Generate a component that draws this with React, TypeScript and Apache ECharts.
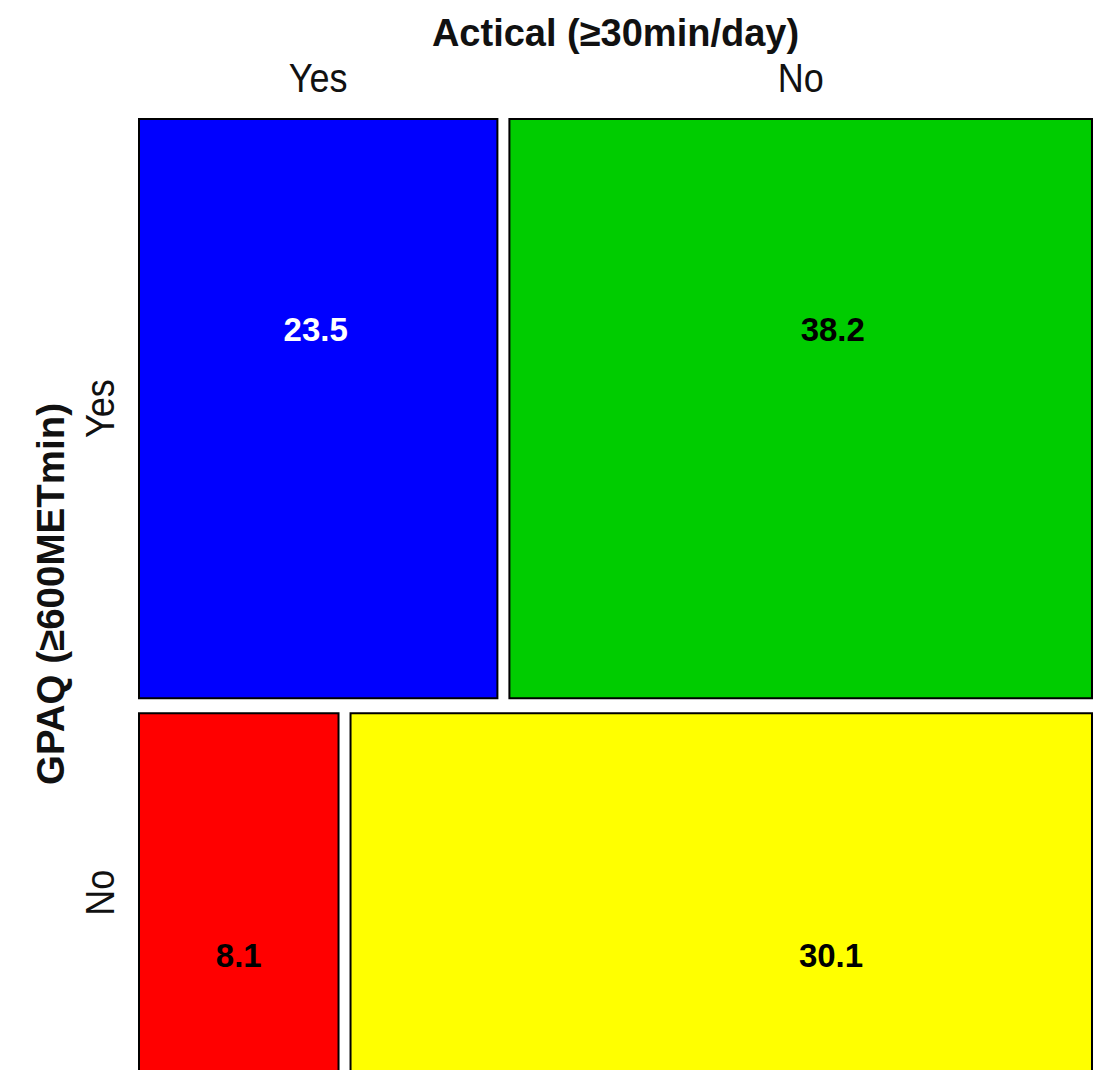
import React, { useEffect, useRef } from "react";
import * as echarts from "echarts";

// Row factor: GPAQ (≥600METmin); column factor: Actical (≥30min/day)
const gpaqLevels = ["Yes", "No"];
const acticalLevels = ["Yes", "No"];
// Cell percentages, one array per GPAQ level, ordered by Actical level
const pctGpaqYes = [23.5, 38.2];
const pctGpaqNo = [8.1, 30.1];

const rowValues = [pctGpaqYes, pctGpaqNo];
const cellColors = [
  ["#0000FF", "#00CC00"],
  ["#FF0000", "#FFFF00"],
];
const valueColors = [
  ["#FFFFFF", "#000000"],
  ["#000000", "#000000"],
];
// Where each value label sits inside its tile (fraction of tile width / height)
const labelAnchors = [
  [[0.493, 0.364], [0.555, 0.364]],
  [[0.5, 0.675], [0.648, 0.675]],
];

const GRID_LEFT = 139;
const GRID_TOP = 119;
const GRID_WIDTH = 953;
const GRID_HEIGHT = 953;
const GAP_X = 12 / GRID_WIDTH;
const GAP_Y = 15 / GRID_HEIGHT;
const FONT = "Liberation Sans, Arial, sans-serif";

export default function App() {
  const ref = useRef<HTMLDivElement>(null);

  useEffect(() => {
    if (!ref.current) return;
    const chart = echarts.init(ref.current, null, { renderer: "svg" });

    const rowTotals = rowValues.map((r) => r.reduce((a, b) => a + b, 0));
    const grand = rowTotals.reduce((a, b) => a + b, 0);

    const data: number[][] = [];
    rowValues.forEach((r, ri) => r.forEach((v, ci) => data.push([ri, ci, v])));

    const renderItem = (params: any, api: any) => {
      const row = api.value(0) as number;
      const col = api.value(1) as number;
      const v = api.value(2) as number;
      const vals = rowValues[row];
      const rowTotal = rowTotals[row];

      let y0 = 0;
      for (let i = 0; i < row; i++) y0 += (rowTotals[i] / grand) * (1 - GAP_Y) + GAP_Y;
      const y1 = y0 + (rowTotal / grand) * (1 - GAP_Y);

      let x0 = 0;
      for (let j = 0; j < col; j++) x0 += (vals[j] / rowTotal) * (1 - GAP_X) + GAP_X;
      const x1 = x0 + (v / rowTotal) * (1 - GAP_X);

      const p0 = api.coord([x0, y0]);
      const p1 = api.coord([x1, y1]);
      const left = Math.min(p0[0], p1[0]);
      const top = Math.min(p0[1], p1[1]);
      const w = Math.abs(p1[0] - p0[0]);
      const h = Math.abs(p1[1] - p0[1]);
      const anchor = labelAnchors[row][col];

      const children: any[] = [
        {
          type: "rect",
          shape: { x: left, y: top, width: w, height: h },
          style: { fill: cellColors[row][col], stroke: "#000", lineWidth: 2 },
        },
        {
          type: "text",
          x: left + w * anchor[0],
          y: top + h * anchor[1],
          style: {
            text: v.toFixed(1),
            fill: valueColors[row][col],
            font: `bold 33px ${FONT}`,
            align: "center",
            verticalAlign: "middle",
          },
        },
      ];

      if (row === 0) {
        children.push({
          type: "text",
          x: left + w / 2,
          y: top - 41,
          scaleX: 0.9,
          style: {
            text: acticalLevels[col],
            fill: "#111",
            font: `40px ${FONT}`,
            align: "center",
            verticalAlign: "middle",
          },
        });
      }
      if (col === 0) {
        children.push({
          type: "text",
          x: left - 39,
          y: top + h / 2,
          rotation: Math.PI / 2,
          scaleX: 0.9,
          style: {
            text: gpaqLevels[row],
            fill: "#111",
            font: `40px ${FONT}`,
            align: "center",
            verticalAlign: "middle",
          },
        });
      }
      return { type: "group", children };
    };

    chart.setOption({
      animation: false,
      backgroundColor: "#FFFFFF",
      grid: { left: GRID_LEFT, top: GRID_TOP, width: GRID_WIDTH, height: GRID_HEIGHT },
      xAxis: { type: "value", min: 0, max: 1, show: false },
      yAxis: { type: "value", min: 0, max: 1, inverse: true, show: false },
      graphic: [
        {
          type: "text",
          x: GRID_LEFT + GRID_WIDTH / 2,
          y: 33,
          style: {
            text: "Actical (≥30min/day)",
            fill: "#111",
            font: `bold 38px ${FONT}`,
            align: "center",
            verticalAlign: "middle",
          },
        },
        {
          type: "text",
          x: 50,
          y: 594,
          rotation: Math.PI / 2,
          style: {
            text: "GPAQ (≥600METmin)",
            fill: "#111",
            font: `bold 38.5px ${FONT}`,
            align: "center",
            verticalAlign: "middle",
          },
        },
      ],
      series: [
        {
          type: "custom",
          clip: false,
          renderItem,
          data,
        },
      ],
    });

    return () => chart.dispose();
  }, []);

  // The chart canvas runs a little past the visible frame, so the lowest tiles
  // continue off the bottom edge.
  return (
    <div
      style={{
        position: "absolute",
        left: 0,
        top: 0,
        width: 1093,
        height: 1070,
        overflow: "hidden",
        background: "#fff",
      }}
    >
      <div ref={ref} style={{ width: 1093, height: 1080 }} />
    </div>
  );
}
